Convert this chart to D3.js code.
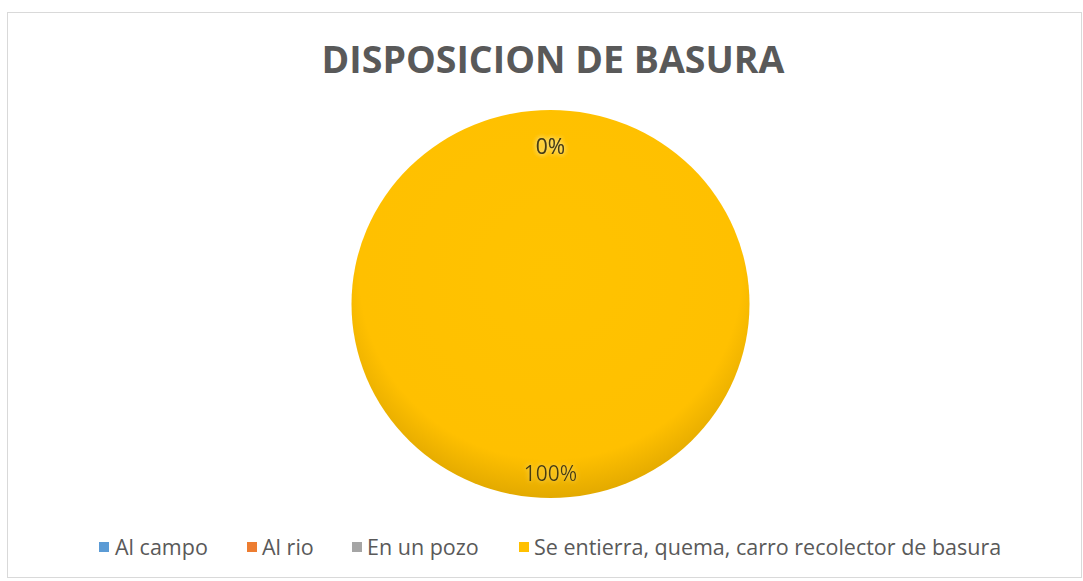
<!DOCTYPE html>
<html>
<head>
<meta charset="utf-8">
<script src="https://cdn.jsdelivr.net/npm/d3@7"></script>
<style>
  html, body { margin: 0; padding: 0; background: #ffffff; }
  svg { display: block; }
</style>
</head>
<body>
<svg id="chart" width="1083" height="581"></svg>
<script>
// Waste disposal survey: share of households by method
const chartTitle = "DISPOSICION DE BASURA";
const categories = ["Al campo", "Al rio", "En un pozo", "Se entierra, quema, carro recolector de basura"];
const values = [0, 0, 0, 100];
const colors = ["#5B9BD5", "#ED7D31", "#A5A5A5", "#FFC000"];

const W = 1083, H = 581;
const svg = d3.select("#chart");

// chart area frame
svg.append("rect")
  .attr("x", 7.5).attr("y", 12.5)
  .attr("width", W - 9).attr("height", H - 16)
  .attr("fill", "#ffffff")
  .attr("stroke", "#d9d9d9").attr("stroke-width", 1);

// title
svg.append("text")
  .attr("x", 553).attr("y", 73)
  .attr("text-anchor", "middle")
  .attr("font-family", "'Open Sans', sans-serif")
  .attr("font-weight", 700)
  .attr("font-size", 37.5)
  .attr("fill", "#595959")
  .text(chartTitle);

// slice shading
const defs = svg.append("defs");
const grad = defs.append("radialGradient")
  .attr("id", "shade")
  .attr("cx", "50%").attr("cy", "42%").attr("r", "60%");
grad.append("stop").attr("offset", "0%").attr("stop-color", "#FFC300");
grad.append("stop").attr("offset", "80%").attr("stop-color", "#FFC000");
grad.append("stop").attr("offset", "100%").attr("stop-color", "#DDA500");

// soft halo behind the data labels
const soft = defs.append("filter").attr("id", "glow")
  .attr("x", "-30%").attr("y", "-50%").attr("width", "160%").attr("height", "200%");
soft.append("feGaussianBlur").attr("in", "SourceAlpha").attr("stdDeviation", 2.5).attr("result", "b");
soft.append("feFlood").attr("flood-color", "#FFE27A").attr("flood-opacity", 0.8);
soft.append("feComposite").attr("in2", "b").attr("operator", "in").attr("result", "g");
const merge = soft.append("feMerge");
merge.append("feMergeNode").attr("in", "g");
merge.append("feMergeNode").attr("in", "SourceGraphic");

const cx = 550.5, cy = 304;
const radius = 199;
const total = d3.sum(values);

const pie = d3.pie().sort(null).value(d => d);
const arcs = pie(values);
const arc = d3.arc().innerRadius(0).outerRadius(radius);
const labelArc = d3.arc().innerRadius(radius * 0.82).outerRadius(radius * 0.82);

const g = svg.append("g")
  .attr("transform", `translate(${cx},${cy}) scale(1,0.975)`);

g.selectAll("path.slice")
  .data(arcs)
  .join("path")
  .attr("class", "slice")
  .attr("d", arc)
  .attr("fill", (d, i) => i === 3 ? "url(#shade)" : colors[i]);

// percentage labels
const fmt = d => Math.round(d.data / total * 100) + "%";
g.selectAll("text.lbl")
  .data(arcs)
  .join("text")
  .attr("class", "lbl")
  .attr("transform", d => {
    const [x, y] = labelArc.centroid(d);
    return `translate(${x},${y + (y < 0 ? 2 : 11)}) scale(1,${1 / 0.975})`;
  })
  .attr("text-anchor", "middle")
  .attr("dy", "0.35em")
  .attr("font-family", "'Open Sans', sans-serif")
  .attr("font-size", 21)
  .attr("fill", "#4a3d10")
  .attr("filter", "url(#glow)")
  .text(fmt);

// legend
const legendY = 547;
const markX = [99, 247, 352, 519];
const textX = [115, 262, 367, 534];
const legend = svg.append("g");
categories.forEach((c, i) => {
  legend.append("rect")
    .attr("x", markX[i]).attr("y", legendY - 5)
    .attr("width", 10).attr("height", 10)
    .attr("fill", colors[i]);
  legend.append("text")
    .attr("x", textX[i]).attr("y", legendY)
    .attr("dy", "0.35em")
    .attr("font-family", "'Open Sans', sans-serif")
    .attr("font-size", 21.5)
    .attr("fill", "#595959")
    .text(c);
});
</script>
</body>
</html>
